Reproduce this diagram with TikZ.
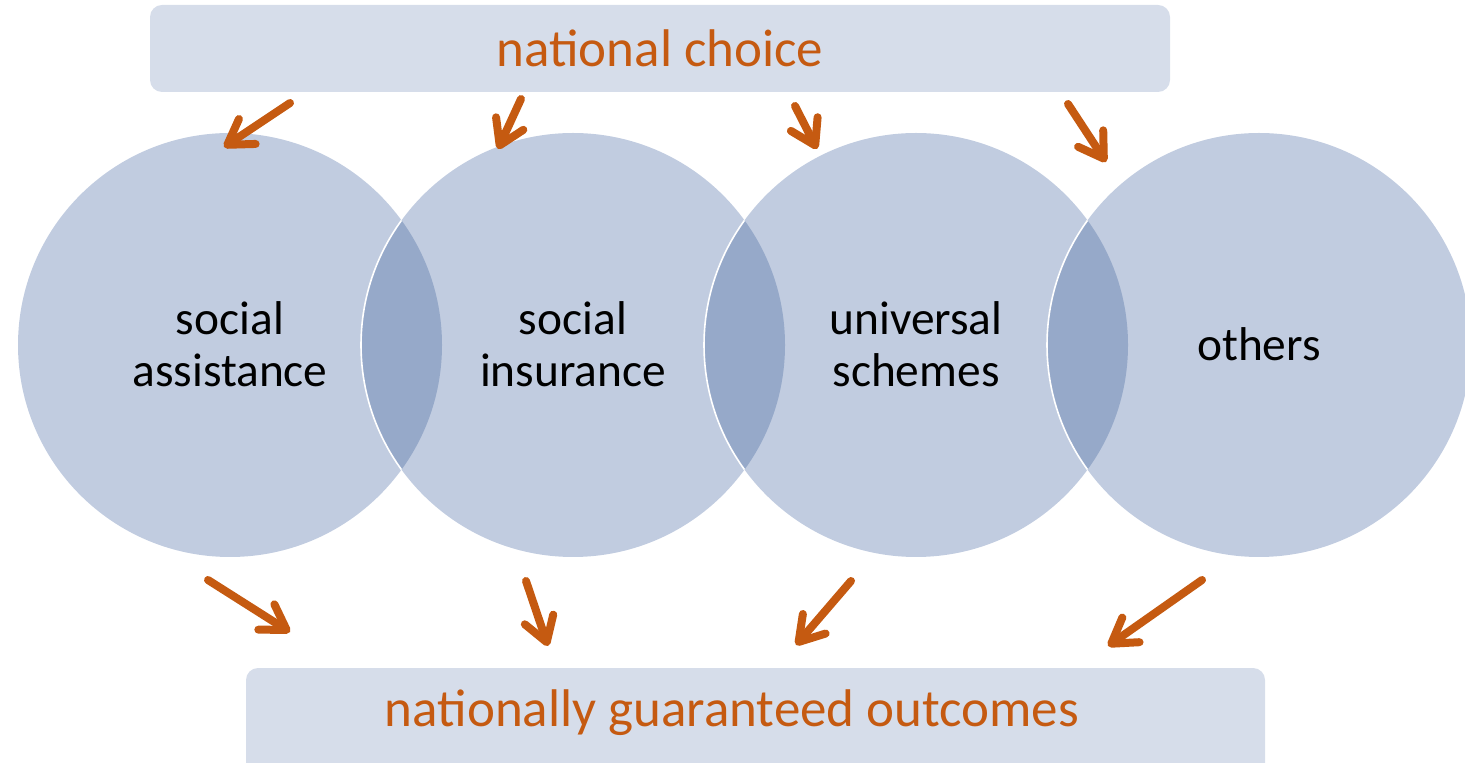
\documentclass[tikz,border=0pt]{standalone}
\usepackage{fontspec}
\setmainfont{Carlito}
\usetikzlibrary{arrows.meta}
\definecolor{circfill}{HTML}{C1CCE0}
\definecolor{lensfill}{HTML}{96A9C9}
\definecolor{boxfill}{HTML}{D6DDEA}
\definecolor{orangetxt}{HTML}{C55A11}
\tikzset{
  bubble/.style={circle, fill=circfill, minimum size=212pt, inner sep=0pt, align=center,
    font=\fontsize{23.7}{26}\selectfont, text=black},
  banner/.style={fill=boxfill, rounded corners=6pt, inner sep=0pt,
    font=\fontsize{26.5}{30}\selectfont, text=orangetxt},
  flow/.style={draw=orangetxt, line width=4pt, line cap=round,
    -{Straight Barb[length=12pt, width=15pt, round]}}
}
\begin{document}
\begin{tikzpicture}[x=0.5pt, y=-0.5pt]
\useasboundingbox (0,0) rectangle (1465,763);
\clip (0,0) rectangle (1465,763);
% banners
\node[banner, minimum width=510pt, minimum height=43.5pt] (top) at (660,48.5) {};
\node[text=orangetxt, font=\fontsize{26.5}{30}\selectfont] (toptxt) at (660,48) {national choice};
\node[banner, minimum width=509.5pt, minimum height=60pt] (bot) at (755.5,728) {};
\node[text=orangetxt, font=\fontsize{26.5}{30}\selectfont] (bottxt) at (732,713) {nationally guaranteed outcomes};
% circles
\foreach \i/\x in {1/230,2/573,3/916,4/1259}{
  \node[bubble] (c\i) at (\x,345) {};
}
% lenses
\foreach \a/\b in {230/573,573/916,916/1259}{
  \begin{scope}
    \clip (\a,345) circle[radius=212];
    \fill[lensfill] (\b,345) circle[radius=212];
    \draw[white, line width=0.8pt] (\b,345) circle[radius=212];
  \end{scope}
}
% circle labels
\node[align=center, font=\fontsize{23.7}{26}\selectfont] (t1) at (230,344) {social\\assistance};
\node[align=center, font=\fontsize{23.7}{26}\selectfont] (t2) at (573,344) {social\\insurance};
\node[align=center, font=\fontsize{23.7}{26}\selectfont] (t3) at (916,344) {universal\\schemes};
\node[align=center, font=\fontsize{23.7}{26}\selectfont] (t4) at (1259,344) {others};
% arrow end points
\coordinate (a1s) at (290,103); \coordinate (a1e) at (224,147);
\coordinate (a2s) at (521,99);  \coordinate (a2e) at (498,149);
\coordinate (a3s) at (795,106); \coordinate (a3e) at (817,149);
\coordinate (a4s) at (1068,104); \coordinate (a4e) at (1106,162);
\coordinate (b1s) at (208,580); \coordinate (b1e) at (290,632);
\coordinate (b2s) at (526,581); \coordinate (b2e) at (548,646);
\coordinate (b3s) at (851,581); \coordinate (b3e) at (796,645);
\coordinate (b4s) at (1202,580); \coordinate (b4e) at (1108,646);
\foreach \p in {a1,a2,a3,a4,b1,b2,b3,b4}{
  \draw[flow] (\p s) -- (\p e);
}
\end{tikzpicture}
\end{document}
